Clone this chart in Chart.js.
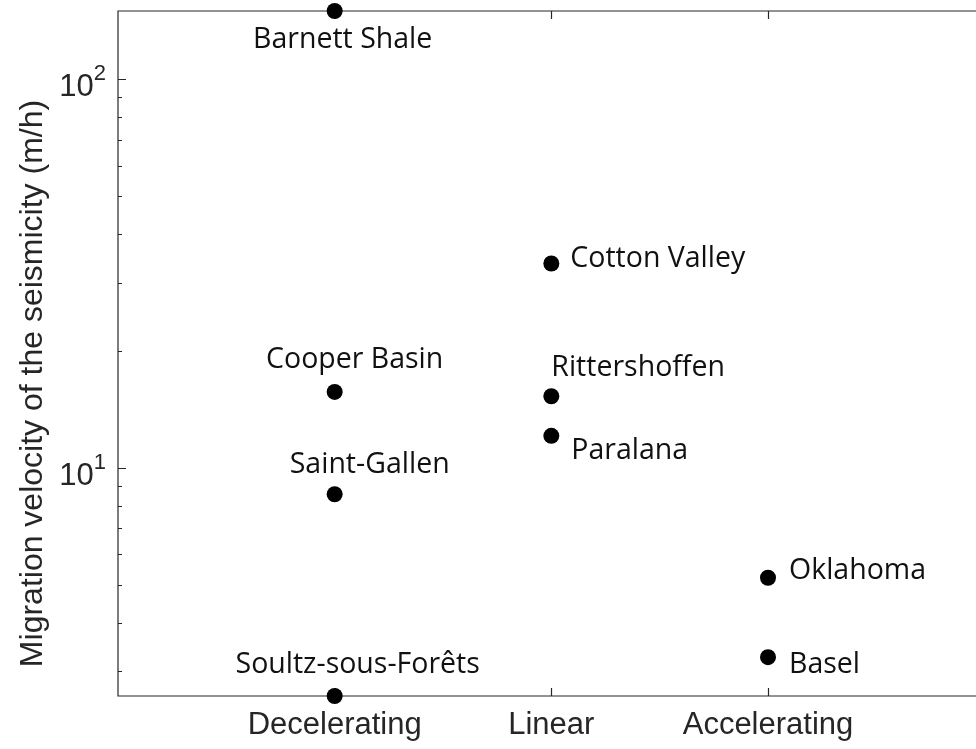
<!DOCTYPE html>
<html>
<head>
<meta charset="utf-8">
<script src="https://cdn.jsdelivr.net/npm/chart.js@4/dist/chart.umd.min.js"></script>
<style>
  html, body { margin: 0; padding: 0; background: #fff; overflow: hidden; }
  #c { display: block; }
</style>
</head>
<body>
<canvas id="c" width="976" height="749"></canvas>
<script>
// Migration trend classes along the x axis
const categories = ['Decelerating', 'Linear', 'Accelerating'];

// Sites, their trend class and migration velocity (m/h)
const sites = ['Barnett Shale', 'Cooper Basin', 'Saint-Gallen', 'Soultz-sous-Forêts',
               'Cotton Valley', 'Rittershoffen', 'Paralana', 'Oklahoma', 'Basel'];
const siteTrend = ['Decelerating', 'Decelerating', 'Decelerating', 'Decelerating',
                   'Linear', 'Linear', 'Linear', 'Accelerating', 'Accelerating'];
const velocity = [150, 15.7, 8.56, 2.59, 33.6, 15.3, 12.1, 5.22, 3.26];

// Labelled decades on the log axis, and the minor tick values
const yTickValues = [10, 100];
const yMinorValues = [3, 4, 5, 6, 7, 8, 9, 20, 30, 40, 50, 60, 70, 80, 90];

const yTitle = 'Migration velocity of the seismicity (m/h)';

// Visible x range (the frame continues past the right edge of the canvas)
const X_MIN = 0;
const X_MAX = 3.96;

// Placement of each site label relative to its marker (pixels)
const labelPlacement = {
  'Barnett Shale':      { dx: 8,  dy: 29,  align: 'center' },
  'Cooper Basin':       { dx: 20, dy: -32, align: 'center' },
  'Saint-Gallen':       { dx: 35, dy: -29, align: 'center' },
  'Soultz-sous-Forêts': { dx: 23, dy: -31, align: 'center' },
  'Cotton Valley':      { dx: 19, dy: -5,  align: 'left' },
  'Rittershoffen':      { dx: 0,  dy: -28, align: 'left' },
  'Paralana':           { dx: 20, dy: 15,  align: 'left' },
  'Oklahoma':           { dx: 21, dy: -7,  align: 'left' },
  'Basel':              { dx: 21, dy: 8,   align: 'left' }
};

const AXIS_COLOR = '#262626';
const TICK_FONT = '31px "Liberation Sans", Arial, sans-serif';
const TITLE_FONT = '32px "Liberation Sans", Arial, sans-serif';
const EXP_FONT = '22px "Liberation Sans", Arial, sans-serif';
const LABEL_FONT = '28.5px "Open Sans", sans-serif';

const points = sites.map((s, i) => ({
  x: categories.indexOf(siteTrend[i]) + 1,
  y: velocity[i],
  site: s
}));

// Open-ended frame with inward ticks, custom tick labels and site labels
const axesPlugin = {
  id: 'axesBox',
  beforeDatasetsDraw(chart) {
    const { ctx, chartArea: a, scales: { x, y } } = chart;
    const edge = chart.width + 2;
    ctx.save();
    ctx.strokeStyle = AXIS_COLOR;
    ctx.lineWidth = 1.2;

    ctx.beginPath();
    // left, top and bottom frame lines
    ctx.moveTo(edge, a.top); ctx.lineTo(a.left, a.top);
    ctx.lineTo(a.left, a.bottom); ctx.lineTo(edge, a.bottom);
    // y ticks on the left side
    yTickValues.concat(yMinorValues).forEach(v => {
      const py = Math.round(y.getPixelForValue(v)) + 0.5;
      const len = yTickValues.includes(v) ? 8 : 4;
      ctx.moveTo(a.left, py); ctx.lineTo(a.left + len, py);
    });
    // x ticks (bottom and top)
    categories.forEach((c, i) => {
      const px = Math.round(x.getPixelForValue(i + 1)) + 0.5;
      ctx.moveTo(px, a.bottom); ctx.lineTo(px, a.bottom - 8);
      ctx.moveTo(px, a.top); ctx.lineTo(px, a.top + 8);
    });
    ctx.stroke();

    // x tick labels
    ctx.fillStyle = AXIS_COLOR;
    ctx.font = TICK_FONT;
    ctx.textAlign = 'center';
    ctx.textBaseline = 'middle';
    categories.forEach((c, i) => {
      ctx.fillText(c, x.getPixelForValue(i + 1), a.bottom + 29);
    });

    // y tick labels as powers of ten
    yTickValues.forEach(v => {
      const py = y.getPixelForValue(v);
      const exp = String(Math.round(Math.log10(v)));
      ctx.font = EXP_FONT;
      const we = ctx.measureText(exp).width;
      ctx.font = TICK_FONT;
      const wb = ctx.measureText('10').width;
      const right = a.left - 12;
      ctx.textAlign = 'left';
      ctx.textBaseline = 'alphabetic';
      ctx.fillText('10', right - we - wb, py + 17);
      ctx.font = EXP_FONT;
      ctx.fillText(exp, right - we, py + 1);
    });

    // y axis title
    ctx.save();
    ctx.translate(33, (a.top + a.bottom) / 2 + 30);
    ctx.rotate(-Math.PI / 2);
    ctx.font = TITLE_FONT;
    ctx.textAlign = 'center';
    ctx.textBaseline = 'middle';
    ctx.fillText(yTitle, 0, 0);
    ctx.restore();
    ctx.restore();
  },
  afterDatasetsDraw(chart) {
    const { ctx } = chart;
    const meta = chart.getDatasetMeta(0);
    ctx.save();
    ctx.fillStyle = '#111';
    ctx.font = LABEL_FONT;
    ctx.textBaseline = 'middle';
    meta.data.forEach((el, i) => {
      const p = labelPlacement[sites[i]];
      ctx.textAlign = p.align;
      ctx.fillText(sites[i], el.x + p.dx, el.y + p.dy);
    });
    ctx.restore();
  }
};

new Chart(document.getElementById('c'), {
  type: 'scatter',
  data: {
    datasets: [{
      data: points,
      pointRadius: 8,
      pointHoverRadius: 8,
      backgroundColor: '#000',
      borderWidth: 0,
      clip: false
    }]
  },
  options: {
    responsive: false,
    maintainAspectRatio: false,
    animation: false,
    events: [],
    layout: { autoPadding: false, padding: { top: 11, right: 0, left: 0, bottom: 0 } },
    plugins: { legend: { display: false }, tooltip: { enabled: false } },
    scales: {
      x: {
        type: 'linear',
        min: X_MIN,
        max: X_MAX,
        grid: { display: false, drawTicks: false },
        border: { display: false },
        ticks: { display: false },
        afterBuildTicks: s => { s.ticks = categories.map((c, i) => ({ value: i + 1 })); },
        afterFit: s => { s.height = 53; }
      },
      y: {
        type: 'logarithmic',
        min: Math.min(...velocity),
        max: Math.max(...velocity),
        grid: { display: false, drawTicks: false },
        border: { display: false },
        ticks: { display: false },
        afterBuildTicks: s => { s.ticks = yTickValues.map(v => ({ value: v })); },
        afterFit: s => { s.width = 118; }
      }
    }
  },
  plugins: [axesPlugin]
});
</script>
</body>
</html>
